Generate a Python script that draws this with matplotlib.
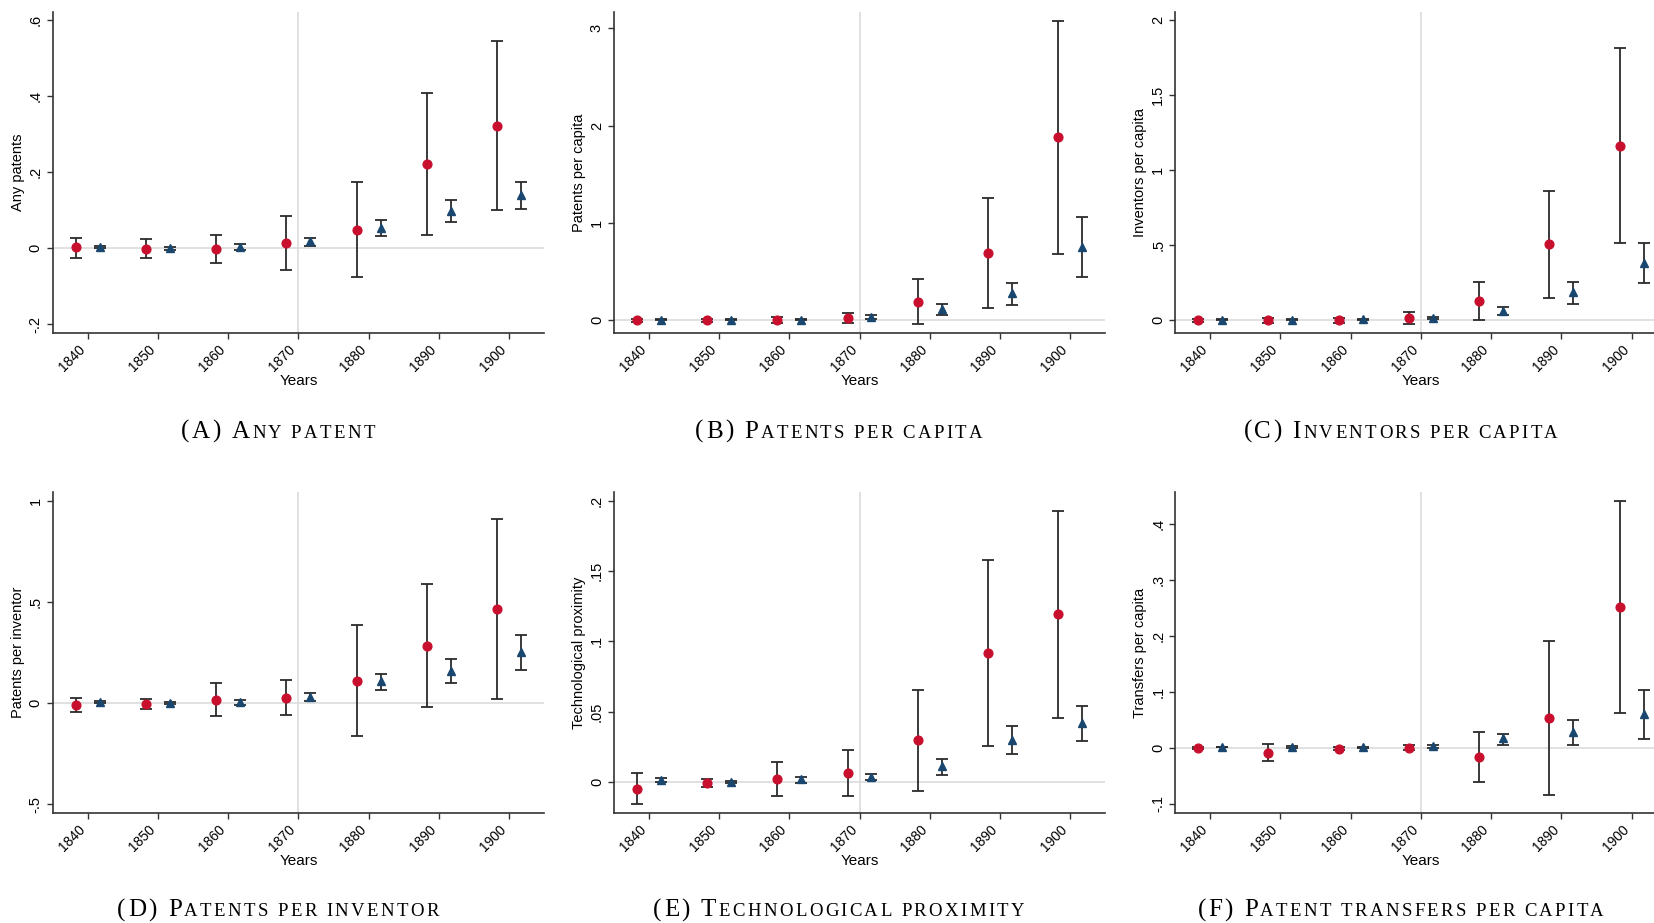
"""Event-study style coefficient plots, six panels with 95% CIs."""

import matplotlib
matplotlib.use("Agg")
import matplotlib.pyplot as plt
from matplotlib.offsetbox import TextArea, HPacker, AnchoredOffsetbox

years = [1840, 1850, 1860, 1870, 1880, 1890, 1900]
xtick_labels = ["1840", "1850", "1860", "1870", "1880", "1890", "1900"]

# (A) Any patent
a_red = [0.002, -0.002, -0.002, 0.013, 0.049, 0.222, 0.322]
a_red_lo = [-0.025, -0.027, -0.039, -0.058, -0.076, 0.035, 0.100]
a_red_hi = [0.026, 0.023, 0.035, 0.085, 0.175, 0.409, 0.544]
a_blue = [0.003, 0.000, 0.004, 0.019, 0.054, 0.099, 0.139]
a_blue_lo = [0.000, -0.004, -0.005, 0.005, 0.031, 0.068, 0.103]
a_blue_hi = [0.005, 0.003, 0.010, 0.028, 0.075, 0.128, 0.175]

# (B) Patents per capita
b_red = [-0.003, -0.003, 0.003, 0.017, 0.185, 0.686, 1.879]
b_red_lo = [-0.020, -0.020, -0.027, -0.034, -0.041, 0.127, 0.679]
b_red_hi = [0.015, 0.015, 0.034, 0.075, 0.418, 1.252, 3.080]
b_blue = [0.003, 0.003, 0.004, 0.031, 0.113, 0.274, 0.754]
b_blue_lo = [-0.003, -0.003, -0.004, 0.010, 0.055, 0.151, 0.442]
b_blue_hi = [0.008, 0.008, 0.012, 0.051, 0.161, 0.384, 1.056]

# (C) Inventors per capita
c_red = [-0.003, -0.003, -0.003, 0.016, 0.127, 0.504, 1.162]
c_red_lo = [-0.012, -0.018, -0.018, -0.027, -0.002, 0.149, 0.513]
c_red_hi = [0.006, 0.012, 0.012, 0.056, 0.256, 0.860, 1.813]
c_blue = [0.002, 0.002, 0.004, 0.011, 0.062, 0.184, 0.382]
c_blue_lo = [-0.002, -0.002, 0.000, 0.004, 0.031, 0.109, 0.247]
c_blue_hi = [0.006, 0.006, 0.009, 0.018, 0.087, 0.256, 0.513]

# (D) Patents per inventor
d_red = [-0.008, -0.003, 0.016, 0.025, 0.109, 0.283, 0.465]
d_red_lo = [-0.043, -0.028, -0.064, -0.061, -0.166, -0.021, 0.018]
d_red_hi = [0.026, 0.021, 0.099, 0.112, 0.387, 0.590, 0.911]
d_blue = [0.005, 0.000, 0.005, 0.031, 0.107, 0.160, 0.252]
d_blue_lo = [0.000, -0.005, -0.010, 0.012, 0.064, 0.097, 0.165]
d_blue_hi = [0.010, 0.003, 0.015, 0.048, 0.145, 0.216, 0.335]

# (E) Technological proximity
e_red = [-0.0047, -0.0005, 0.0024, 0.0066, 0.0296, 0.0917, 0.1192]
e_red_lo = [-0.0159, -0.0033, -0.0097, -0.0100, -0.0064, 0.0258, 0.0457]
e_red_hi = [0.0066, 0.0024, 0.0144, 0.0230, 0.0656, 0.1578, 0.1927]
e_blue = [0.0014, 0.0000, 0.0019, 0.0038, 0.0114, 0.0301, 0.0419]
e_blue_lo = [0.0000, -0.0005, -0.0005, 0.0012, 0.0052, 0.0197, 0.0289]
e_blue_hi = [0.0026, 0.0005, 0.0036, 0.0059, 0.0166, 0.0396, 0.0540]

# (F) Patent transfers per capita
f_red = [0.000, -0.0084, -0.001, 0.0006, -0.0155, 0.0542, 0.2524]
f_red_lo = [-0.001, -0.0238, -0.003, -0.004, -0.0607, -0.0833, 0.0631]
f_red_hi = [0.001, 0.0066, 0.001, 0.005, 0.0286, 0.1917, 0.4423]
f_blue = [0.002, 0.001, 0.001, 0.0036, 0.0172, 0.028, 0.0613]
f_blue_lo = [0.002, 0.000, 0.000, 0.000, 0.0054, 0.0054, 0.0166]
f_blue_hi = [0.002, 0.003, 0.002, 0.006, 0.025, 0.0494, 0.1036]

RED = "#C8102E"
BLUE = "#1A476F"
BAR = "#2b2b2b"
W, H = 1654, 923
SANS = "Liberation Sans"


def draw_panel(ax, red, red_lo, red_hi, blue, blue_lo, blue_hi,
               ylabel, yticks, yticklabels, ylim):
    ax.axhline(0, color="#dcdcdc", lw=1.2, zorder=0)
    ax.axvline(1870, color="#dcdcdc", lw=1.2, zorder=0)

    xr = [y - 1.7 for y in years]
    xb = [y + 1.7 for y in years]
    for xs, pt, lo, hi in ((xr, red, red_lo, red_hi), (xb, blue, blue_lo, blue_hi)):
        err = [[p - l for p, l in zip(pt, lo)], [h - p for p, h in zip(pt, hi)]]
        ax.errorbar(xs, pt, yerr=err, fmt="none", ecolor=BAR,
                    elinewidth=1.3, capsize=4.5, capthick=1.3, zorder=2)
    ax.plot(xr, red, "o", color=RED, ms=6.3, mec=RED, zorder=3)
    ax.plot(xb, blue, "^", color=BLUE, ms=5.8, mec=BLUE, zorder=3)

    ax.set_xlim(1835, 1905)
    ax.set_ylim(*ylim)
    ax.set_xticks(years)
    ax.set_xticklabels(xtick_labels, rotation=45, ha="right", va="top",
                       fontsize=10, family=SANS)
    ax.set_yticks(yticks)
    ax.set_yticklabels(yticklabels, rotation=90, va="center",
                       fontsize=10.5, family=SANS)
    ax.set_xlabel("Years", fontsize=11, family=SANS, labelpad=0)
    ax.set_ylabel(ylabel, fontsize=10.5, family=SANS, labelpad=3)

    for side in ("top", "right"):
        ax.spines[side].set_visible(False)
    for side in ("left", "bottom"):
        ax.spines[side].set_color("#333333")
        ax.spines[side].set_linewidth(1.2)
    ax.tick_params(length=4, width=1.0, color="#333333", pad=3)


def caption(fig, cx, cy, big, small):
    # small caps faked with two sizes, letter-spaced one glyph at a time
    serif = "Liberation Serif"
    parts = [TextArea(ch, textprops=dict(family=serif, fontsize=18)) for ch in big]
    parts += [TextArea(ch, textprops=dict(family=serif, fontsize=13.5)) for ch in small]
    box = HPacker(children=parts, align="baseline", pad=0, sep=1.7)
    anchored = AnchoredOffsetbox(loc="center", child=box, pad=0, borderpad=0,
                                 frameon=False, bbox_to_anchor=(cx / W, 1 - cy / H),
                                 bbox_transform=fig.transFigure)
    fig.add_artist(anchored)


fig = plt.figure(figsize=(W / 100, H / 100), dpi=100)

lefts = [52.5, 613.6, 1175.0]
tops = [11.7, 492.3]
bottoms = [333.0, 812.7]
aw = 491.8


def make_ax(col, row):
    l = lefts[col] / W
    b = 1 - bottoms[row] / H
    h = (bottoms[row] - tops[row]) / H
    return fig.add_axes([l, b, aw / W, h])


ax = make_ax(0, 0)
draw_panel(ax, a_red, a_red_lo, a_red_hi, a_blue, a_blue_lo, a_blue_hi,
           "Any patents", [-0.2, 0, 0.2, 0.4, 0.6], ["-.2", "0", ".2", ".4", ".6"],
           (-0.223, 0.622))
ax = make_ax(1, 0)
draw_panel(ax, b_red, b_red_lo, b_red_hi, b_blue, b_blue_lo, b_blue_hi,
           "Patents per capita", [0, 1, 2, 3], ["0", "1", "2", "3"],
           (-0.134, 3.171))
ax = make_ax(2, 0)
draw_panel(ax, c_red, c_red_lo, c_red_hi, c_blue, c_blue_lo, c_blue_hi,
           "Inventors per capita", [0, 0.5, 1, 1.5, 2], ["0", ".5", "1", "1.5", "2"],
           (-0.087, 2.055))
ax = make_ax(0, 1)
draw_panel(ax, d_red, d_red_lo, d_red_hi, d_blue, d_blue_lo, d_blue_hi,
           "Patents per inventor", [-0.5, 0, 0.5, 1], ["-.5", "0", ".5", "1"],
           (-0.543, 1.042))
ax = make_ax(1, 1)
draw_panel(ax, e_red, e_red_lo, e_red_hi, e_blue, e_blue_lo, e_blue_hi,
           "Technological proximity", [0, 0.05, 0.1, 0.15, 0.2],
           ["0", ".05", ".1", ".15", ".2"], (-0.0218, 0.206))
ax = make_ax(2, 1)
draw_panel(ax, f_red, f_red_lo, f_red_hi, f_blue, f_blue_lo, f_blue_hi,
           "Transfers per capita", [-0.1, 0, 0.1, 0.2, 0.3, 0.4],
           ["-.1", "0", ".1", ".2", ".3", ".4"], (-0.1156, 0.457))

caption_x = [278, 838.6, 1400.5]
caption_y = [431.5, 910]
caption(fig, caption_x[0], caption_y[0], "(A) A", "NY PATENT")
caption(fig, caption_x[1], caption_y[0], "(B) P", "ATENTS PER CAPITA")
caption(fig, caption_x[2], caption_y[0], "(C) I", "NVENTORS PER CAPITA")
caption(fig, caption_x[0], caption_y[1], "(D) P", "ATENTS PER INVENTOR")
caption(fig, caption_x[1], caption_y[1], "(E) T", "ECHNOLOGICAL PROXIMITY")
caption(fig, caption_x[2], caption_y[1], "(F) P", "ATENT TRANSFERS PER CAPITA")

fig.savefig("out.png", dpi=100)
